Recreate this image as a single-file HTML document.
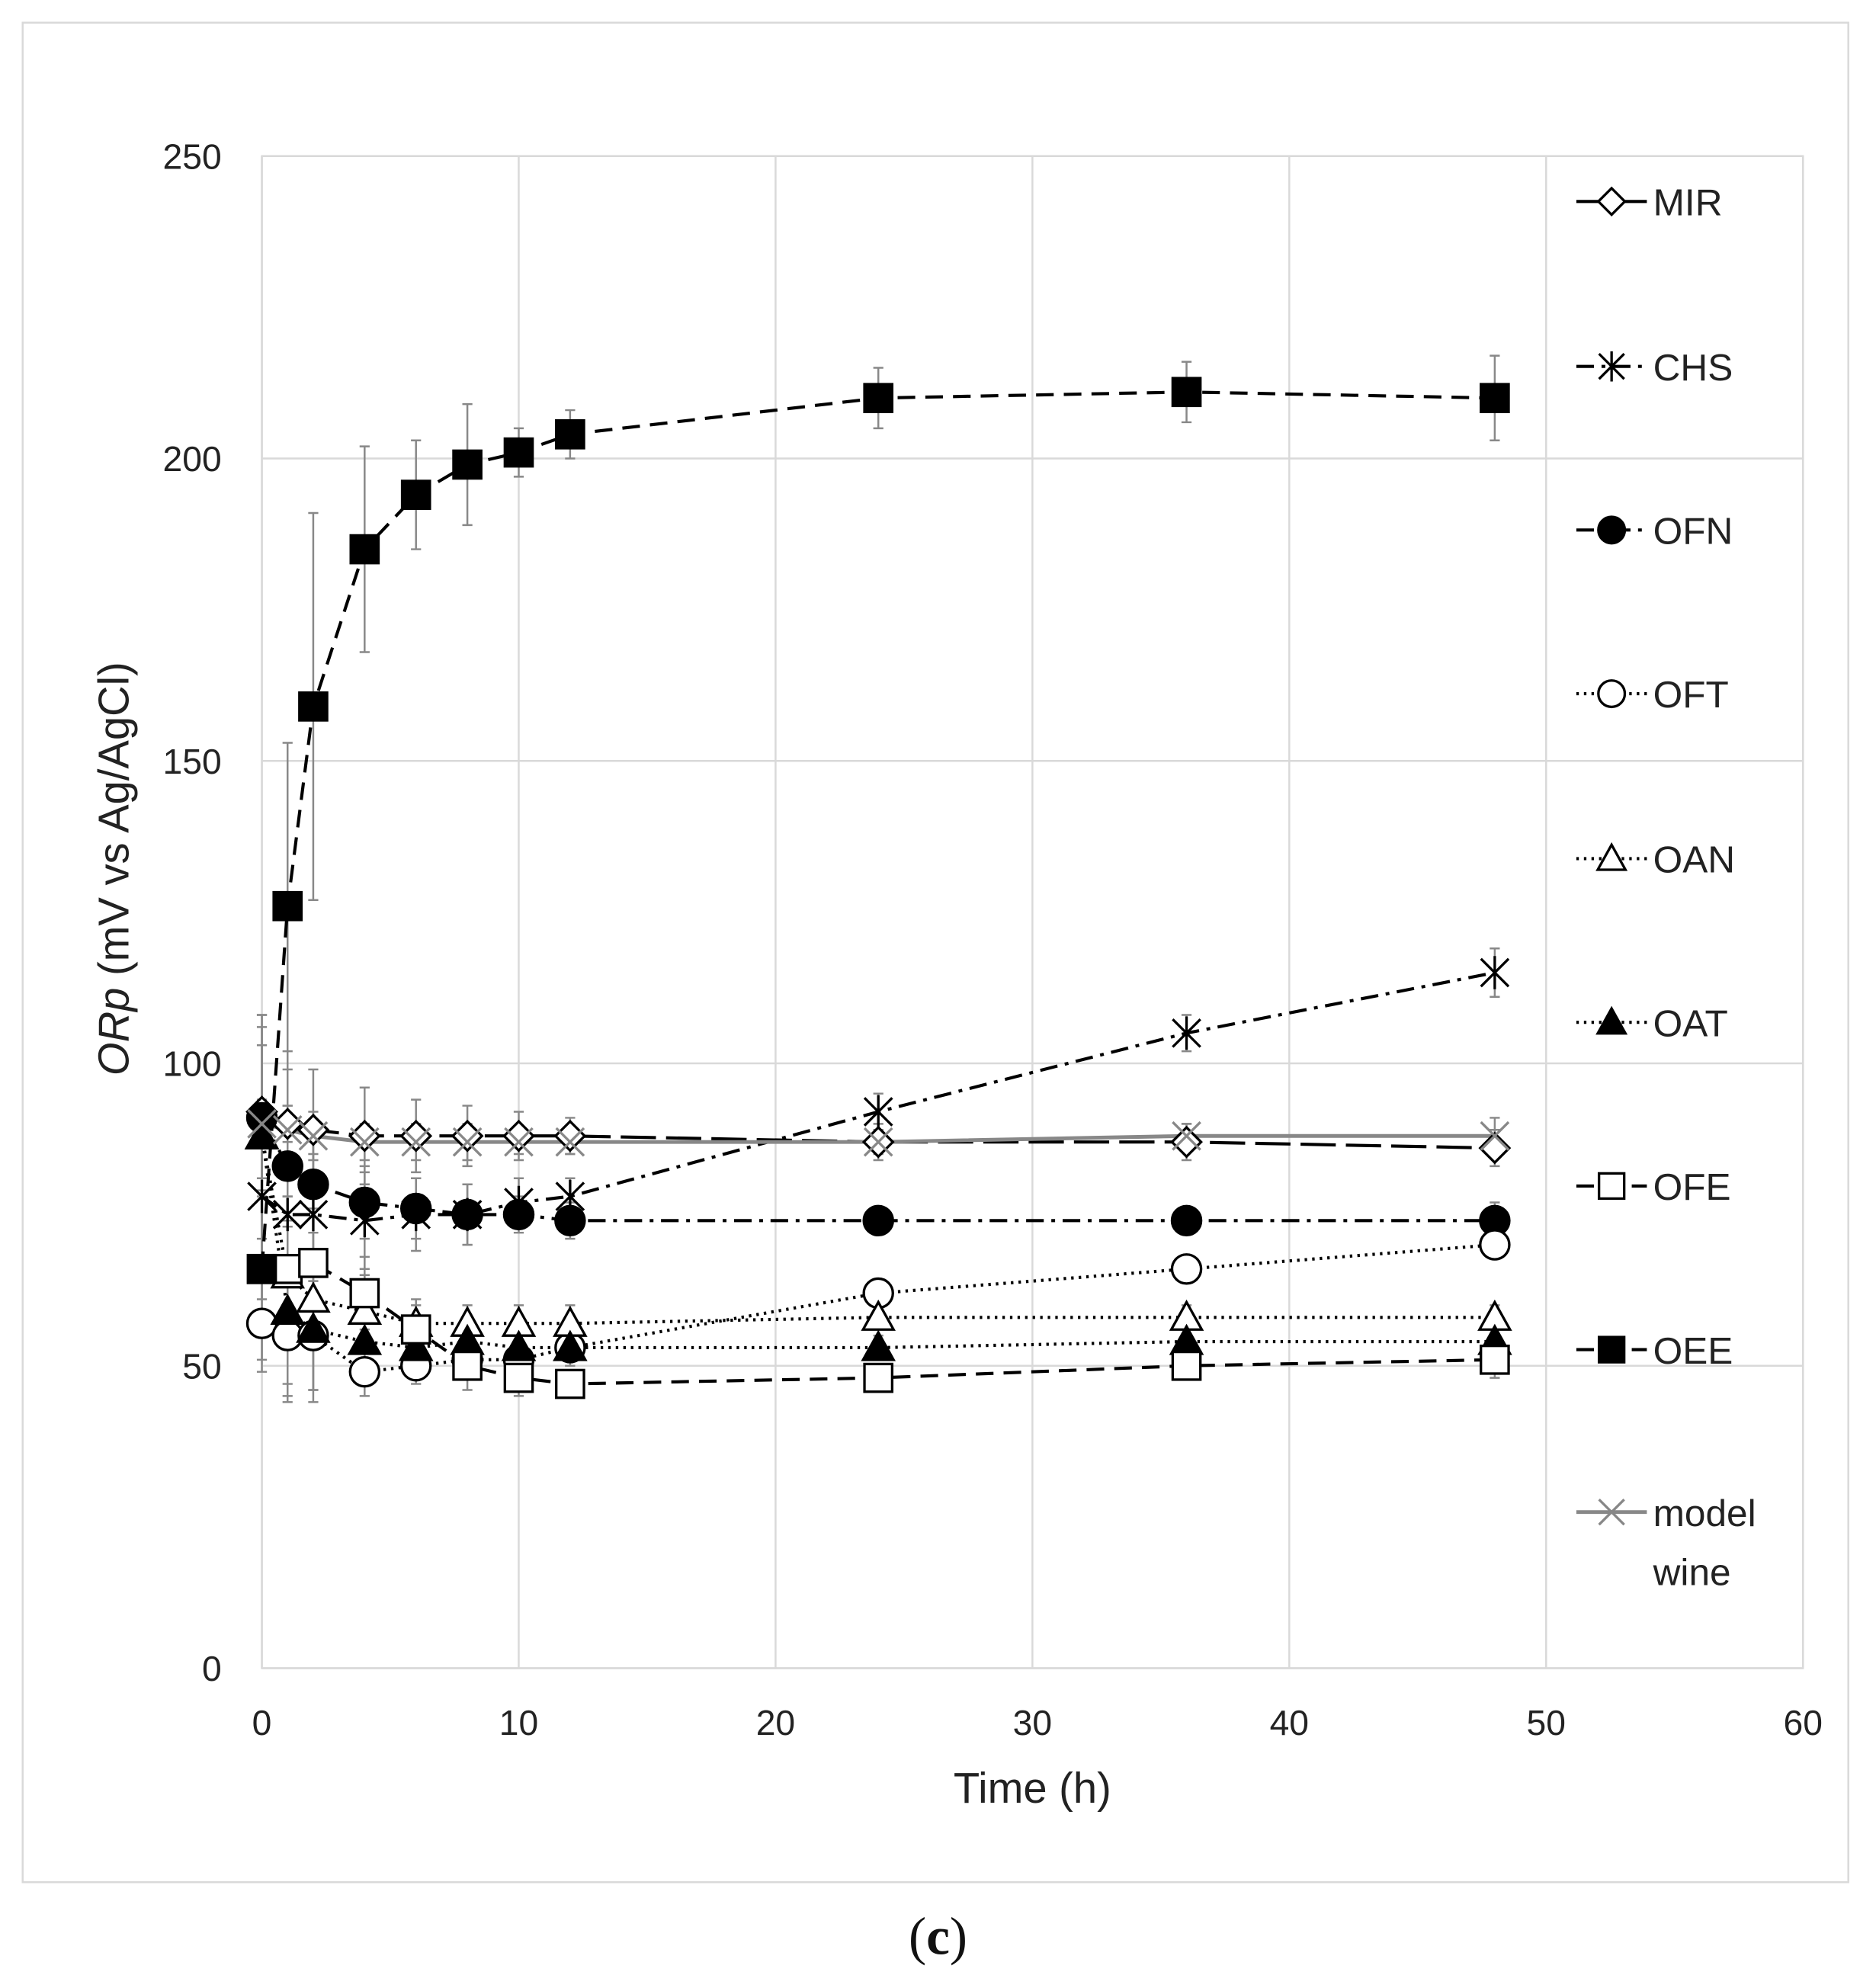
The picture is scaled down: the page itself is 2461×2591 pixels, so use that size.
<!DOCTYPE html>
<html><head><meta charset="utf-8"><style>html,body{margin:0;padding:0;background:#fff}svg{display:block}</style></head>
<body>
<svg id="s" width="2461" height="2591" viewBox="0 0 1490 1568.7" preserveAspectRatio="none" xmlns="http://www.w3.org/2000/svg" font-family="Liberation Sans, sans-serif">
<rect x="18" y="18" width="1450" height="1477" fill="#fff" stroke="#d9d9d9" stroke-width="1.5"/>
<g id="grid" stroke="#d9d9d9" stroke-width="1.5" fill="none"></g>
<g id="ticks" font-size="28" fill="#222"></g>
<text x="820" y="1432" font-size="34" text-anchor="middle" fill="#222">Time (h)</text>
<text transform="translate(102,690) rotate(-90)" font-size="34" text-anchor="middle" fill="#222"><tspan font-style="italic">ORp</tspan> (mV vs Ag/AgCl)</text>
<g id="data"></g>
<g id="legend" font-size="30" fill="#222"></g>
<text x="745" y="1552" font-size="42" font-family="Liberation Serif, serif" text-anchor="middle" fill="#111">(<tspan font-weight="bold">c</tspan>)</text>
</svg>
<script>
const NS="http://www.w3.org/2000/svg";
function el(p,t,a,txt){const e=document.createElementNS(NS,t);for(const k in a)e.setAttribute(k,a[k]);if(txt!==undefined)e.textContent=txt;p.appendChild(e);return e;}
const X=v=>208+v*20.4, Y=v=>1325-v*4.804;
const g=document.getElementById('grid'),tk=document.getElementById('ticks');
el(g,'rect',{x:208,y:124,width:1224,height:1201});
for(let i=0;i<=60;i+=10){el(g,'line',{x1:X(i),y1:124,x2:X(i),y2:1325});el(tk,'text',{x:X(i),y:1378,'text-anchor':'middle'},i);}
for(let v=0;v<=250;v+=50){el(g,'line',{x1:208,y1:Y(v),x2:1432,y2:Y(v)});el(tk,'text',{x:176,y:Y(v)+10,'text-anchor':'end'},v);}
const T=[0,1,2,4,6,8,10,12,24,36,48];
const S=[
 {n:'MIR',m:'diamond',f:'#fff',c:'#000',d:'28,8',y:[92,90,89,88,88,88,88,88,87,87,86],e:[14,12,10,8,6,5,4,3,3,3,3]},
 {n:'CHS',m:'star',f:'none',c:'#000',d:'14,6,3,6',y:[78,75,75,74,75,75,77,78,92,105,115],e:[14,12,10,8,6,5,4,3,3,3,4]},
 {n:'OFN',m:'circle',f:'#000',c:'#000',d:'14,6,3,6',y:[91,83,80,77,76,75,75,74,74,74,74],e:[12,10,8,6,5,5,3,3,2,2,3]},
 {n:'OFT',m:'circle',f:'#fff',c:'#000',d:'2,4',y:[57,55,55,49,50,51,51,53,62,66,70],e:[8,10,9,4,3,3,3,3,2,2,2]},
 {n:'OAN',m:'tri',f:'#fff',c:'#000',d:'2,4',y:[88,65,61,59,57,57,57,57,58,58,58],e:[20,18,15,6,4,3,3,3,2,2,2]},
 {n:'OAT',m:'tri',f:'#000',c:'#000',d:'2,4',y:[88,59,56,54,53,54,53,53,53,54,54],e:[20,15,12,5,3,3,3,3,2,2,2]},
 {n:'OFE',m:'square',f:'#fff',c:'#000',d:'14,8',y:[66,66,67,62,56,50,48,47,48,50,51],e:[15,12,12,6,4,4,3,2,2,2,3]},
 {n:'OEE',m:'square',f:'#000',c:'#000',d:'14,8',y:[66,126,159,185,194,199,201,204,210,211,210],e:[5,27,32,17,9,10,4,4,5,5,7]},
 {n:'model wine',m:'x',f:'none',c:'#888',d:'',y:[90,89,88,87,87,87,87,87,87,88,88],e:[4,4,4,3,3,3,2,2,2,2,3]}
];
function mark(p,s,x,y,sz){
 const a={fill:s.f,stroke:s.c,'stroke-width':2};
 if(s.m==='square'){const r=sz;el(p,'rect',Object.assign({x:x-r,y:y-r,width:2*r,height:2*r},a));}
 else if(s.m==='circle'){el(p,'circle',Object.assign({cx:x,cy:y,r:sz*1.05},a));}
 else if(s.m==='diamond'){const r=sz*1.05;el(p,'polygon',Object.assign({points:`${x},${y-r} ${x+r},${y} ${x},${y+r} ${x-r},${y}`},a));}
 else if(s.m==='tri'){const r=sz*1.1;el(p,'polygon',Object.assign({points:`${x},${y-r} ${x+r},${y+r*0.8} ${x-r},${y+r*0.8}`},a));}
 else if(s.m==='star'){const r=sz;el(p,'path',{d:`M${x-r},${y-r}L${x+r},${y+r}M${x-r},${y+r}L${x+r},${y-r}M${x},${y-r*1.2}L${x},${y+r*1.2}`,stroke:s.c,'stroke-width':2,fill:'none'});}
 else {const r=sz;el(p,'path',{d:`M${x-r},${y-r}L${x+r},${y+r}M${x-r},${y+r}L${x+r},${y-r}`,stroke:s.c,'stroke-width':2,fill:'none'});}
}
const D=document.getElementById('data');
S.forEach(s=>{
 T.forEach((t,i)=>{const x=X(t);el(D,'path',{d:`M${x},${Y(s.y[i]-s.e[i])}V${Y(s.y[i]+s.e[i])}M${x-4},${Y(s.y[i]-s.e[i])}h8M${x-4},${Y(s.y[i]+s.e[i])}h8`,stroke:'#888','stroke-width':1.5,fill:'none'});});
});
S.forEach(s=>{
 const pts=T.map((t,i)=>X(t)+','+Y(s.y[i])).join(' ');
 const a={points:pts,fill:'none',stroke:s.c,'stroke-width':s.c==='#888'?3:2.5};
 if(s.d)a['stroke-dasharray']=s.d;
 el(D,'polyline',a);
});
S.forEach(s=>{T.forEach((t,i)=>mark(D,s,X(t),Y(s.y[i]),11));});
const L=document.getElementById('legend');
const ly=[160,291,421,551,682,812,942,1072,1201];
S.forEach((s,k)=>{
 const y=ly[k];const a={x1:1252,y1:y,x2:1308,y2:y,stroke:s.c,'stroke-width':s.c==='#888'?3:2.5};
 if(s.d)a['stroke-dasharray']=s.d==='28,8'?'28,4':s.d;
 el(L,'line',a);mark(L,s,1280,y,10);
 if(s.n==='model wine'){el(L,'text',{x:1313,y:y+11},'model');el(L,'text',{x:1313,y:y+58},'wine');}
 else el(L,'text',{x:1313,y:y+11},s.n);
});
</script>
</body></html>
